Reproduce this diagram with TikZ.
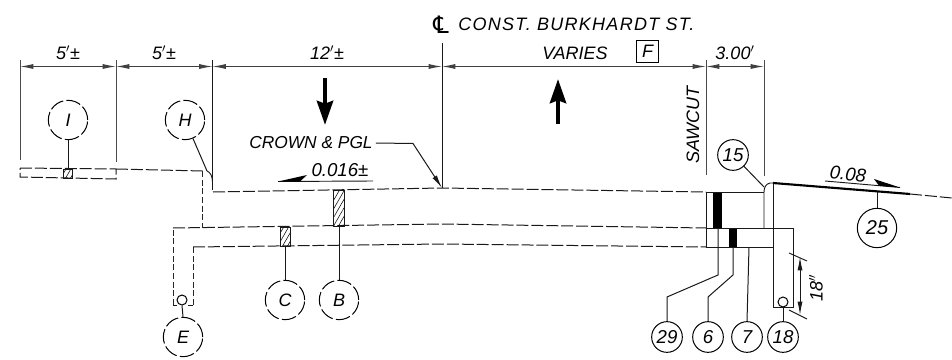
\documentclass[tikz,border=0pt]{standalone}
\usepackage{fontspec}
\setmainfont{Liberation Sans}
\newfontfamily\clfont{DejaVu Sans}
\newfontfamily\widefont[LetterSpace=7]{Liberation Sans}
\usetikzlibrary{arrows.meta,patterns.meta}
\tikzset{
  x=0.75pt,y=-0.75pt,
  cadtext/.style={inner sep=0pt,font=\fontsize{13.5}{15}\selectfont\itshape,text=black},
  callout/.style={circle,draw=black,line width=.75pt,inner sep=0pt,minimum size=29.5pt,cadtext},
  smallcall/.style={callout,minimum size=23pt,font=\fontsize{14}{15}\selectfont\itshape},
  dashcall/.style={callout,dash pattern=on 11pt off 2.4pt},
  lead/.style={draw=black!90,line width=.75pt},
  extline/.style={draw=black!70,line width=.7pt},
  dimline/.style={draw=black!75,line width=.7pt,{Latex[length=10pt,width=3.8pt]}-{Latex[length=10pt,width=3.8pt]}},
  pave/.style={draw=black!90,line width=.75pt,dash pattern=on 9pt off 2.2pt},
  pavefine/.style={draw=black!85,line width=.65pt,dash pattern=on 4.5pt off 2pt},
  solidl/.style={draw=black!90,line width=.7pt},
  hatchbox/.style={draw=black!90,line width=.7pt,pattern={Lines[angle=60,distance=3.2pt,line width=.4pt]}},
  bigarrow/.style={draw=black,line width=3.4pt,-{Triangle[length=18pt,width=12pt,inset=2pt]}},
  wedge/.style={fill=black,draw=none},
}
\begin{document}
\begin{tikzpicture}
\useasboundingbox (0,0) rectangle (952,360);
% named points
\foreach \n/\x in {a/20,b/116,c/212.5,d/442,e/706,f/764}{
  \coordinate (\n t) at (\x,66.5);
}
% extension lines
\draw[extline] (20,60) -- (20,160);
\draw[extline] (116,60) -- (116,162);
\draw[solidl] (212.5,60) -- (212.5,190);
\draw[draw=black!90,line width=.7pt] (442,43) -- (442,188);
\draw[extline] (706,60) -- (706,175);
\draw[extline] (764,60) -- (764,176);
% dimensions
\draw[dimline] (at) -- (bt);
\draw[dimline] (bt) -- (ct);
\draw[dimline] (ct) -- (dt);
\draw[dimline] (dt) -- (et);
\draw[dimline] (et) -- (ft);
\node[cadtext] (d1) at (68,53) {5$'$±};
\node[cadtext] (d2) at (164,53) {5$'$±};
\node[cadtext] (d3) at (327,53) {12$'$±};
\node[cadtext] (vr) at (575,53) {VARIES};
\node[cadtext,draw=black,line width=.7pt,minimum width=17pt,minimum height=17pt] (fb) at (647.5,51.5) {F};
\node[cadtext] (d5) at (735,53) {3.00$'$};
\node[cadtext,font=\fontsize{18}{18}\selectfont\clfont] (cl) at (441,25) {℄};
\node[cadtext,anchor=west,font=\fontsize{13.5}{15}\selectfont\widefont\itshape] (title) at (458,24) {CONST.\ BURKHARDT ST.};
\node[cadtext,rotate=90] (saw) at (693,125) {SAWCUT};
% traffic arrows
\coordinate (dnA) at (325,78); \coordinate (dnB) at (325,125);
\coordinate (upA) at (558,124); \coordinate (upB) at (558,79);
\draw[bigarrow] (dnA) -- (dnB);
\draw[bigarrow] (upA) -- (upB);
% left dashed box
\draw[pave] (20,168) -- (116,169) -- (116,179) -- (20,177) -- cycle;
\draw[pave] (116,169) -- (203,171);
\draw[pavefine] (202.5,171) -- (202.5,228);
\draw[solidl] (207,171) .. controls (210,172) and (212.5,176) .. (212.5,182);
% pavement layers
\draw[pave] (213,192) -- (442,188) -- (706,192);
\draw[pavefine] (173.5,305) -- (173.5,228);
\draw[pave] (173,228) -- (442,224) -- (706,228);
\draw[pavefine] (193.5,305) -- (193.5,247);
\draw[pave] (193,247) -- (442,244) -- (706,247);
\draw[solidl] (173,305) -- (177,305);
\draw[solidl] (193,305) -- (188,305);
% hatched
\draw[hatchbox] (63,169) rectangle (72,178);
\draw[hatchbox] (333,190) rectangle (344,226);
\draw[hatchbox] (280,227) rectangle (290,246);
% right block
\fill[black] (713,192) rectangle (722,228);
\fill[black] (729,229) rectangle (737,247);
\draw[solidl] (706,192) -- (764,192);
\draw[solidl] (706,192) -- (706,247) -- (773,247);
\draw[solidl] (706,228) -- (793,228) -- (793,307) -- (773,307) -- (773,183);
\draw[solidl] (764,228) -- (764,192) .. controls (764,187) and (766,184) .. (770,183) -- (773,183);
% surface
\draw[draw=black,line width=1.6pt] (773,183) -- (910,194);
\draw[pave] (910,194) -- (952,198);
% pipes
\node[circle,draw=black,line width=.75pt,inner sep=0pt,minimum size=7.5pt,fill=white] (pE) at (182,300) {};
\node[circle,draw=black,line width=.75pt,inner sep=0pt,minimum size=7.5pt,fill=white] (p18) at (783,302) {};
% callouts
\node[dashcall] (I) at (68,120) {I};
\node[dashcall] (H) at (185,120) {H};
\node[dashcall] (C) at (285,300) {C};
\node[dashcall] (B) at (339,300) {B};
\node[dashcall] (E) at (183,337) {E};
\node[callout,font=\fontsize{15}{16}\selectfont\itshape] (n25) at (877,228) {25};
\node[smallcall] (n15) at (733,155) {15};
\node[smallcall] (n29) at (667,337) {29};
\node[smallcall] (n6) at (708,337) {6};
\node[smallcall] (n7) at (747,337) {7};
\node[smallcall] (n18) at (783,337) {18};
% leaders
\coordinate (tI) at (68,169); \coordinate (tH) at (207,171);
\coordinate (tC) at (285,246); \coordinate (tB) at (339,226);
\coordinate (t25) at (877,192); \coordinate (t15) at (764,187);
\coordinate (t29) at (718,228); \coordinate (t6) at (733,247); \coordinate (t7) at (749,247);
\path[lead] (I) -- (tI);
\path[lead] (H) -- (tH);
\path[lead] (C.north) -- (tC);
\path[lead] (B.north) -- (tB);
\path[lead] (E.north) -- (pE.south);
\path[lead] (n25.north) -- (t25);
\path[lead] (n15) -- (t15);
\path[lead] (n29.north) -- (667,297) -- (718,275) -- (t29);
\path[lead] (n6.north) -- (708,297) -- (733,275) -- (t6);
\path[lead] (n7.north) -- (t7);
\path[lead] (n18.north) -- (p18.south);
% crown
\node[cadtext,font=\fontsize{13}{15}\selectfont\itshape] (crown) at (311,143) {CROWN \& PGL};
\coordinate (crownElbow) at (413,143.5);
\coordinate (crownTip) at (442,188);
\draw[lead,-{Latex[length=10pt,width=3.8pt]}] (crown.east) ++(3,0) -- (crownElbow) -- (crownTip);
% slope 0.016
\node[cadtext,font=\fontsize{14}{15}\selectfont\itshape] (s1) at (340,170) {0.016±};
\coordinate (s1a) at (278,181.5); \coordinate (s1b) at (373,181);
\draw[solidl] (s1a) -- (s1b);
\fill[wedge] (s1a) -- (307,175) -- (300,181.5) -- cycle;
% slope 0.08
\node[cadtext,rotate=-5,font=\fontsize{14}{15}\selectfont\itshape] (s2) at (848,174) {0.08};
\coordinate (s2a) at (825,181); \coordinate (s2b) at (900,187.5);
\draw[solidl] (s2a) -- (s2b);
\fill[wedge] (s2b) -- (874,179) -- (879,185.7) -- cycle;
% 18 inch
\coordinate (k1) at (800,257); \coordinate (k2) at (800,315);
\draw[solidl] (789,253) -- (807,261);
\draw[solidl] (789,310) -- (807,319);
\draw[dimline,draw=black!90] (k1) -- (k2);
\node[cadtext,rotate=90] (in18) at (816,288) {18$''$};
\end{tikzpicture}
\end{document}
